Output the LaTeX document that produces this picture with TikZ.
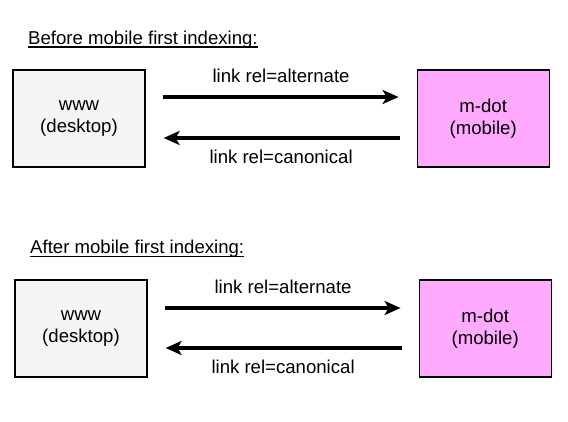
\documentclass[tikz,border=0pt]{standalone}
\usepackage{fontspec}
\setmainfont{Liberation Sans}
\usepackage{xcolor}
\usepackage{tikz}
\usetikzlibrary{arrows.meta,positioning}
\definecolor{wwwgray}{HTML}{F5F5F5}
\definecolor{mdotpink}{HTML}{FFAAFF}
\newcommand{\diagfont}{\fontsize{18.6}{22}\selectfont}
\newcommand{\headline}[1]{\setbox0\hbox{#1}\rlap{\rule[-3.4pt]{\wd0}{1.4pt}}\box0}

\begin{document}
\begin{tikzpicture}[x=1pt,y=-1pt,node distance=271pt,
  site/.style={draw,line width=1.2pt,align=center,minimum width=132pt,minimum height=97pt,inner sep=0pt,font=\diagfont,execute at begin node=\rule{0pt}{18pt}},
  heading/.style={anchor=base west,inner sep=0pt,font=\diagfont},
  rel/.style={inner sep=0pt,font=\diagfont},
  link/.style={line width=4pt,shorten <=17pt,shorten >=18pt},
  >={Stealth[length=16pt,width=14pt,inset=4pt]}]
\useasboundingbox (0,0) rectangle (568,421);
% before
\node[heading] (before) at (28,44.3) {\headline{Before mobile first indexing:}};
\node[site,fill=wwwgray] (www1) at (79,118.5) {www\\(desktop)};
\node[site,fill=mdotpink,right=of www1] (mdot1) {m-dot\\(mobile)};
\draw[link,->] ([yshift=21.5pt]www1.east) -- node[rel,above=12pt]{link rel=alternate} ([yshift=21.5pt]mdot1.west);
\draw[link,->] ([yshift=-19.5pt]mdot1.west) -- node[rel,below=10pt]{link rel=canonical} ([yshift=-19.5pt]www1.east);
% after
\node[heading] (after) at (30,253.5) {\headline{After mobile first indexing:}};
\node[site,fill=wwwgray] (www2) at (81,328.5) {www\\(desktop)};
\node[site,fill=mdotpink,right=of www2] (mdot2) {m-dot\\(mobile)};
\draw[link,->] ([yshift=20.5pt]www2.east) -- node[rel,above=12pt]{link rel=alternate} ([yshift=20.5pt]mdot2.west);
\draw[link,->] ([yshift=-19.5pt]mdot2.west) -- node[rel,below=10pt]{link rel=canonical} ([yshift=-19.5pt]www2.east);
\end{tikzpicture}
\end{document}
